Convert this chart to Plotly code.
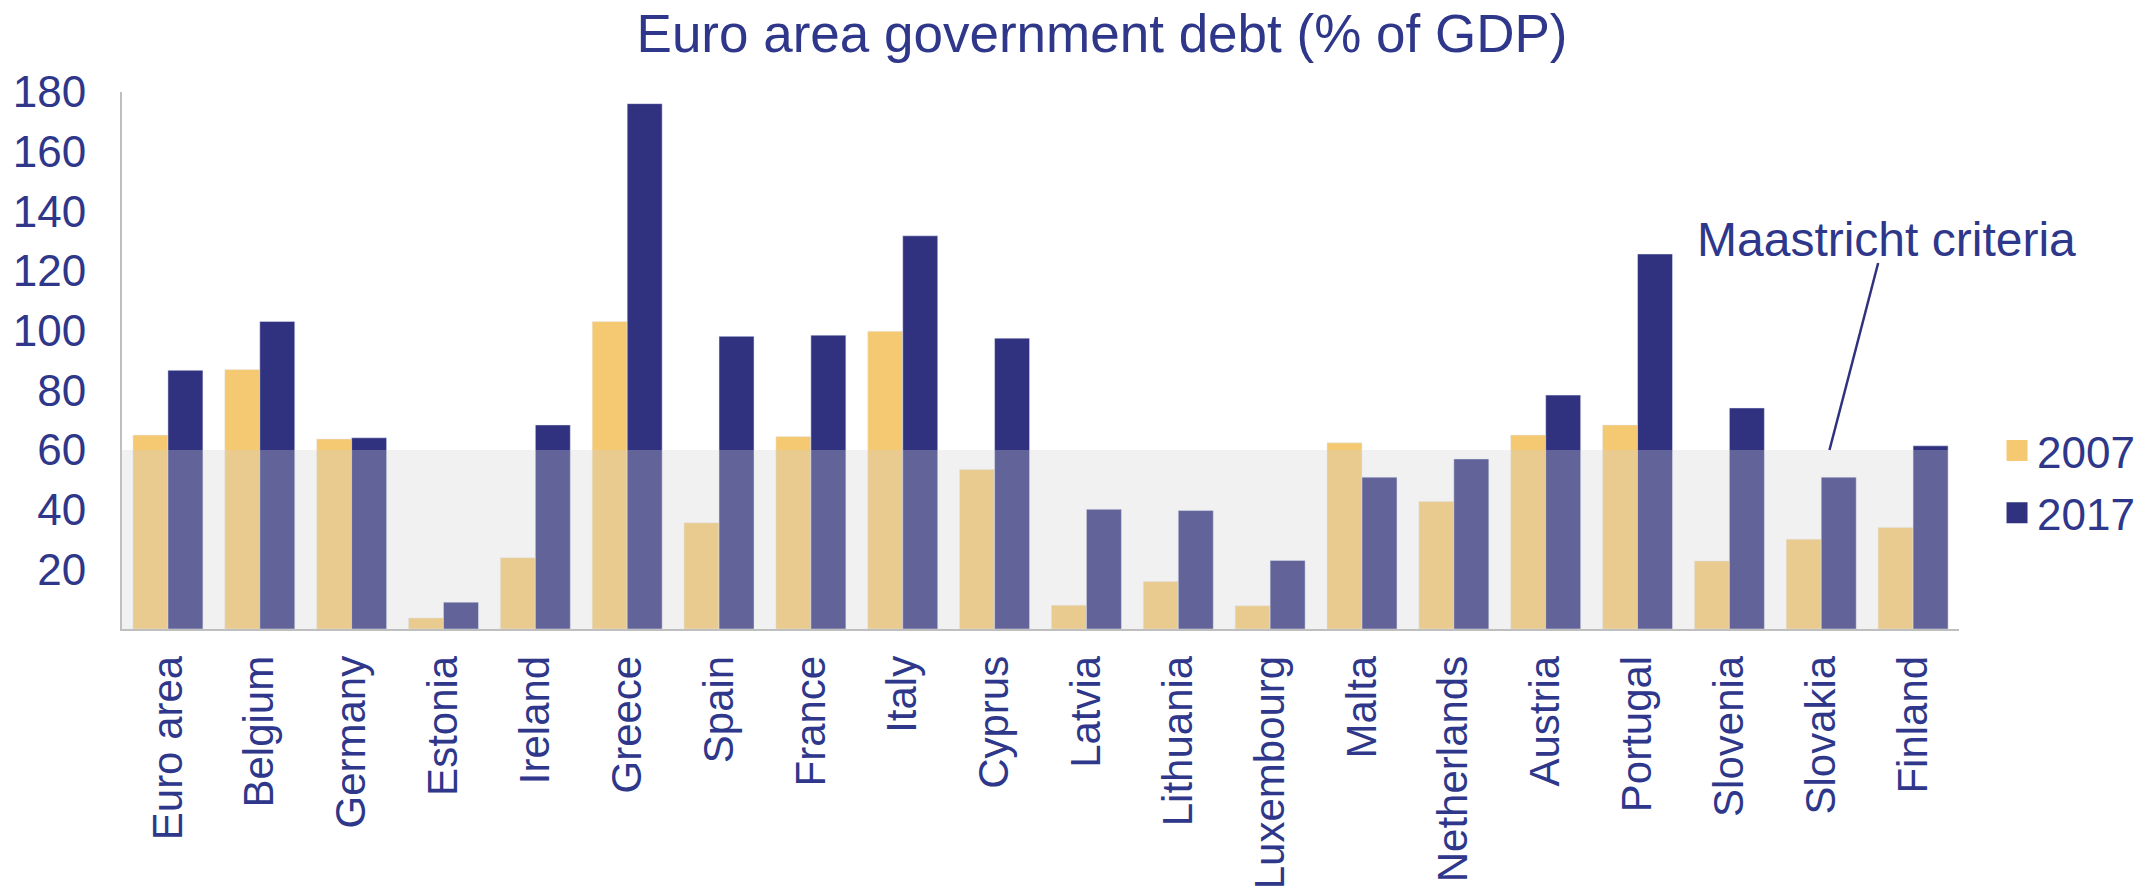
import plotly.graph_objects as go

countries = ["Euro area", "Belgium", "Germany", "Estonia", "Ireland", "Greece", "Spain",
             "France", "Italy", "Cyprus", "Latvia", "Lithuania", "Luxembourg", "Malta",
             "Netherlands", "Austria", "Portugal", "Slovenia", "Slovakia", "Finland"]
debt_2007 = [65.0, 87.0, 63.7, 3.7, 23.9, 103.1, 35.6, 64.5, 99.8, 53.5, 8.0, 15.9, 7.8,
             62.4, 42.7, 65.0, 68.4, 22.8, 30.1, 34.0]
debt_2017 = [86.7, 103.1, 64.1, 9.0, 68.4, 176.1, 98.1, 98.5, 131.8, 97.5, 40.1, 39.7, 23.0,
             50.9, 57.0, 78.4, 125.7, 74.1, 50.9, 61.4]
series_names = ["2007", "2017"]
y_ticks = [20, 40, 60, 80, 100, 120, 140, 160, 180]
maastricht_limit = 60
annotation_text = "Maastricht criteria"
title_text = "Euro area government debt (% of GDP)"

YELLOW = "#F5C872"
NAVY = "#31327F"
TEXT = "#2E378A"
FONT = "Arial, Liberation Sans, sans-serif"

fig = go.Figure()
fig.add_trace(go.Bar(x=countries, y=debt_2007, name=series_names[0], marker_color=YELLOW,
                     showlegend=False))
fig.add_trace(go.Bar(x=countries, y=debt_2017, name=series_names[1], marker_color=NAVY,
                     showlegend=False))
# legend entries with larger square symbols
for nm, col, grp in [(series_names[0], YELLOW, "a"), (series_names[1], NAVY, "b")]:
    fig.add_trace(go.Scatter(x=[None], y=[None], mode="markers", name=nm, legendgroup=grp,
                             marker=dict(symbol="square", size=16, color=col,
                                         line=dict(width=5, color=col))))

n = len(countries)
bar_w = 0.381
# Maastricht shaded band (semi-transparent overlay)
fig.add_shape(type="rect", xref="x", yref="y", x0=-0.5, x1=n - 1 + bar_w,
              y0=0, y1=maastricht_limit, fillcolor="rgba(211,211,211,0.31)",
              line=dict(width=0), layer="above")
# pointer line
fig.add_shape(type="line", xref="x", yref="y", x0=18.62, y0=122.7, x1=18.09, y1=maastricht_limit,
              line=dict(color=NAVY, width=2.5), layer="above")
fig.add_annotation(x=18.71, y=130.4, xref="x", yref="y", text=annotation_text, showarrow=False,
                   font=dict(size=48, color=TEXT, family=FONT), xanchor="center", yanchor="middle")

fig.update_layout(
    width=2149, height=890,
    margin=dict(l=122, r=190, t=92, b=261, autoexpand=False),
    paper_bgcolor="white", plot_bgcolor="white",
    barmode="group", bargap=1 - 2 * bar_w, bargroupgap=0,
    font=dict(family=FONT, color=TEXT, size=44),
    title=dict(text=title_text, x=1102 / 2149, xref="container", xanchor="center",
               y=1 - 33 / 890, yref="container", yanchor="middle",
               font=dict(size=53, color=TEXT, family=FONT)),
    legend=dict(x=1.0207, xanchor="left", y=0.3976, yanchor="top", tracegroupgap=2,
                font=dict(size=44, color=TEXT, family=FONT), bgcolor="rgba(0,0,0,0)"),
    xaxis=dict(range=[-0.5, n - 0.5], tickangle=-90, showline=True, linecolor="#BFBFBF",
               linewidth=2, showgrid=False, ticks="", ticklabelstandoff=8, automargin=False,
               tickfont=dict(size=42, color=TEXT, family=FONT)),
    yaxis=dict(range=[0, 180], tickvals=y_ticks, showline=True, linecolor="#BFBFBF",
               linewidth=2, showgrid=False, zeroline=False, ticks="", ticklabelstandoff=25,
               automargin=False, tickfont=dict(size=44, color=TEXT, family=FONT)),
)

fig.write_html("out.html")
